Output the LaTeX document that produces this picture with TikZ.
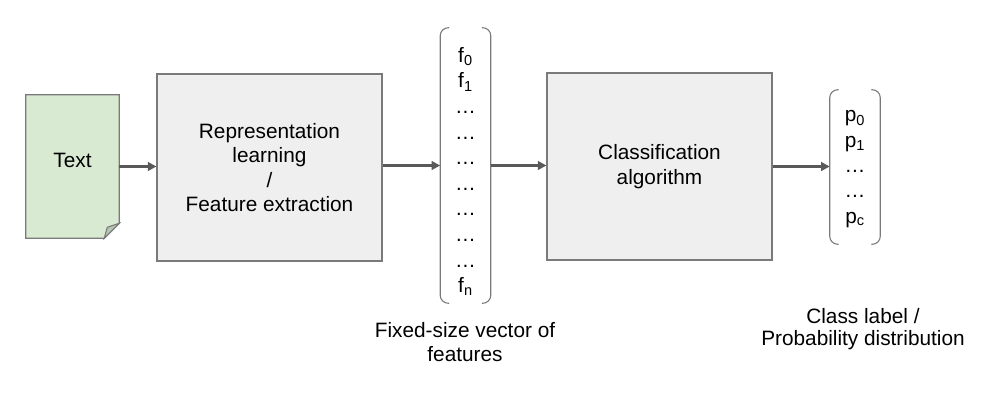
\documentclass[tikz,border=0pt]{standalone}
\usepackage{fontspec}
\setmainfont{Liberation Sans}
\usetikzlibrary{arrows.meta, positioning, calc}
\definecolor{docfill}{HTML}{D9EAD3}
\definecolor{foldfill}{HTML}{B7C4B1}
\definecolor{boxfill}{HTML}{EFEFEF}
\definecolor{edgegray}{HTML}{7A7A7A}
\definecolor{arrowgray}{HTML}{595959}
\tikzstyle{arrow} = [line width=1.8pt, arrowgray, -{Triangle[length=6.5pt,width=6.5pt]}]
\tikzstyle{procbox} = [draw=edgegray, line width=0.8pt, fill=boxfill, minimum width=225*0.75pt, minimum height=187*0.75pt, align=center, font=\fontsize{15.6}{18.4}\selectfont]
\tikzstyle{bracket} = [draw=edgegray, line width=0.8pt, rounded corners=6pt]

\begin{document}
\begin{tikzpicture}[x=0.75pt, y=-0.75pt]
\useasboundingbox (0,0) rectangle (985,403);

% Input document with folded corner
\node[minimum width=93*0.75pt, minimum height=143*0.75pt] (text) at (72.5,166.5) {};
\draw[draw=edgegray, line width=0.8pt, fill=docfill] (text.north west) -- (text.north east) -- ($(text.south east)+(0,-15)$) -- ($(text.south east)+(-15,0)$) -- (text.south west) -- cycle;
\draw[draw=edgegray, line width=0.8pt, fill=foldfill] ($(text.south east)+(0,-15)$) -- ($(text.south east)+(-12,-11)$) -- ($(text.south east)+(-15,0)$) -- cycle;
\node[font=\fontsize{15.6}{18.4}\selectfont] (textlabel) at ($(text)+(0,-6)$) {Text};

% Processing boxes
\node[procbox] (repr) at (269.5,167.5) {Representation\\learning\\/\\Feature extraction};
\node[procbox] (clf) at (659.5,166.5) {Classification\\algorithm};

% Feature vector
\node[minimum width=50*0.75pt, minimum height=275*0.75pt] (vec) at (465.5,165.5) {};
\node[align=center, font=\fontsize{15.6}{19.2}\selectfont] (vecitems) at ($(vec)+(0,6)$)
  {f\textsubscript{0}\\f\textsubscript{1}\\\ldots\\\ldots\\\ldots\\\ldots\\\ldots\\\ldots\\\ldots\\f\textsubscript{n}};
\draw[bracket] ($(vec.north west)+(9,0)$) -- (vec.north west) -- (vec.south west) -- ($(vec.south west)+(9,0)$);
\draw[bracket] ($(vec.north east)+(-9,0)$) -- (vec.north east) -- (vec.south east) -- ($(vec.south east)+(-9,0)$);

% Output vector
\node[minimum width=50*0.75pt, minimum height=154*0.75pt] (out) at (855,167) {};
\node[align=center, font=\fontsize{15.6}{19}\selectfont] (outitems) at ($(out)+(0,2)$)
  {p\textsubscript{0}\\p\textsubscript{1}\\\ldots\\\ldots\\p\textsubscript{c}};
\draw[bracket] ($(out.north west)+(9,0)$) -- (out.north west) -- (out.south west) -- ($(out.south west)+(9,0)$);
\draw[bracket] ($(out.north east)+(-9,0)$) -- (out.north east) -- (out.south east) -- ($(out.south east)+(-9,0)$);

% Captions
\node[align=center, font=\fontsize{15.6}{18}\selectfont] (veclabel) at (465,342) {Fixed-size vector of\\features};
\node[align=center, font=\fontsize{15.6}{17}\selectfont] (outlabel) at (863,329) {Class label /\\Probability distribution};

% Connectors
\draw[arrow] (text.east) -- (repr.west |- text.east);
\draw[arrow] (repr.east |- vec.west) -- (vec.west);
\draw[arrow] (vec.east) -- (clf.west |- vec.east);
\draw[arrow] (clf.east) -- (clf.east -| out.west);

\end{tikzpicture}
\end{document}
